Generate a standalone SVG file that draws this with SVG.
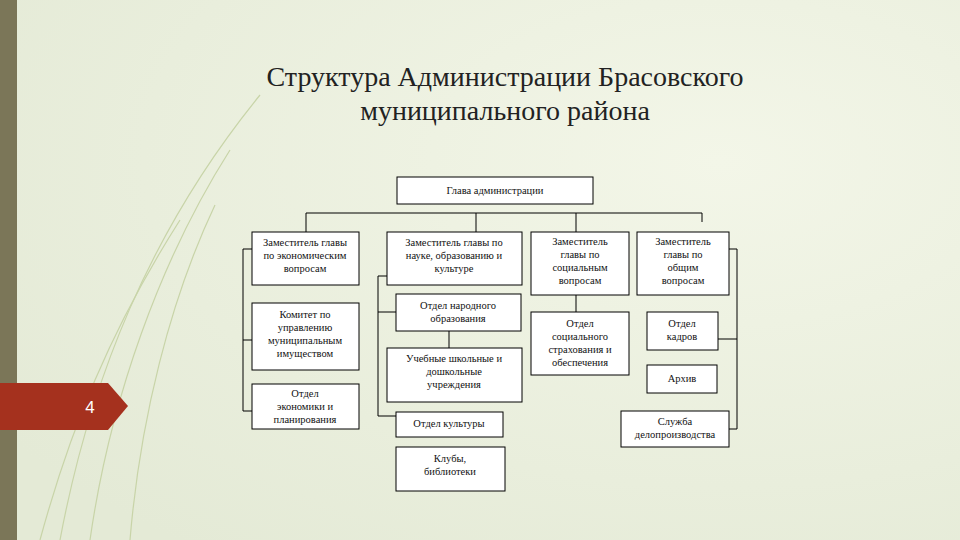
<svg xmlns="http://www.w3.org/2000/svg" width="960" height="540" viewBox="0 0 960 540">
<defs>
<radialGradient id="bg" cx="0.75" cy="0.3" r="0.9"><stop offset="0" stop-color="#f3f6e8"/><stop offset="1" stop-color="#e4ead6"/></radialGradient>
<style>
.b{fill:#fff;stroke:#000;stroke-width:1}
.t{font-family:"Liberation Serif",serif;font-size:10.5px;text-anchor:middle;fill:#111}
.c{fill:none;stroke:#000;stroke-width:1}
.d{fill:none;stroke:#c8d4a8;stroke-width:1.2}
</style>
</defs>
<rect width="960" height="540" fill="url(#bg)"/>
<path class="d" d="M60 540 C90 380 150 230 260 95"/>
<path class="d" d="M90 540 C110 400 160 260 230 150"/>
<path class="d" d="M130 540 C140 420 170 300 215 205"/>
<path class="d" d="M40 540 C70 430 110 330 180 220"/>
<rect x="0" y="0" width="17" height="540" fill="#7b7658"/>
<path d="M0 383 H108 L128 406 L108 430 H0 Z" fill="#a5311e"/>
<text x="90" y="413" font-family="Liberation Sans,sans-serif" font-size="17" fill="#fff" text-anchor="middle">4</text>
<text x="505" y="86" font-family="Liberation Serif,serif" font-size="28" text-anchor="middle" fill="#222">Структура Администрации Брасовского</text>
<text x="505" y="120" font-family="Liberation Serif,serif" font-size="28" text-anchor="middle" fill="#222">муниципального района</text>
<g id="connectors">
<path class="c" d="M306 232V213H702V222M476 213V232M576 213V232"/>
<path class="c" d="M252 249H243V411H252M243 340H252"/>
<path class="c" d="M387 276H378V416H396M378 312H396"/>
<path class="c" d="M449 331V348M576 295V312"/>
<path class="c" d="M729 249H737V429H729M737 339H718"/>
</g>
<g id="n0"><rect class="b" x="397" y="177" width="196" height="27"/><text class="t" x="495" y="194">Глава администрации</text></g>
<g id="n1"><rect class="b" x="252" y="232" width="107" height="53"/><text class="t" x="305" y="246">Заместитель главы</text><text class="t" x="305" y="259">по экономическим</text><text class="t" x="305" y="272">вопросам</text></g>
<g id="n2"><rect class="b" x="252" y="303" width="107" height="67"/><text class="t" x="305" y="318">Комитет по</text><text class="t" x="305" y="331">управлению</text><text class="t" x="305" y="344">муниципальным</text><text class="t" x="305" y="357">имуществом</text></g>
<g id="n3"><rect class="b" x="252" y="384" width="107" height="45"/><text class="t" x="305" y="397">Отдел</text><text class="t" x="305" y="410">экономики и</text><text class="t" x="305" y="423">планирования</text></g>
<g id="n4"><rect class="b" x="387" y="232" width="135" height="53"/><text class="t" x="454" y="246">Заместитель главы по</text><text class="t" x="454" y="259">науке, образованию и</text><text class="t" x="454" y="272">культуре</text></g>
<g id="n5"><rect class="b" x="396" y="294" width="125" height="37"/><text class="t" x="458" y="309">Отдел народного</text><text class="t" x="458" y="322">образования</text></g>
<g id="n6"><rect class="b" x="387" y="348" width="135" height="54"/><text class="t" x="454" y="362">Учебные школьные и</text><text class="t" x="454" y="375">дошкольные</text><text class="t" x="454" y="388">учреждения</text></g>
<g id="n7"><rect class="b" x="396" y="412" width="107" height="25"/><text class="t" x="449" y="427">Отдел культуры</text></g>
<g id="n8"><rect class="b" x="396" y="447" width="109" height="44"/><text class="t" x="450" y="462">Клубы,</text><text class="t" x="450" y="475">библиотеки</text></g>
<g id="n9"><rect class="b" x="531" y="232" width="98" height="63"/><text class="t" x="580" y="245">Заместитель</text><text class="t" x="580" y="258">главы по</text><text class="t" x="580" y="271">социальным</text><text class="t" x="580" y="284">вопросам</text></g>
<g id="n10"><rect class="b" x="531" y="312" width="98" height="63"/><text class="t" x="580" y="327">Отдел</text><text class="t" x="580" y="340">социального</text><text class="t" x="580" y="353">страхования и</text><text class="t" x="580" y="366">обеспечения</text></g>
<g id="n11"><rect class="b" x="637" y="232" width="92" height="63"/><text class="t" x="683" y="245">Заместитель</text><text class="t" x="683" y="258">главы по</text><text class="t" x="683" y="271">общим</text><text class="t" x="683" y="284">вопросам</text></g>
<g id="n12"><rect class="b" x="647" y="312" width="71" height="38"/><text class="t" x="682" y="327">Отдел</text><text class="t" x="682" y="340">кадров</text></g>
<g id="n13"><rect class="b" x="647" y="365" width="70" height="28"/><text class="t" x="682" y="382">Архив</text></g>
<g id="n14"><rect class="b" x="621" y="411" width="108" height="36"/><text class="t" x="675" y="425">Служба</text><text class="t" x="675" y="438">делопроизводства</text></g>
</svg>
